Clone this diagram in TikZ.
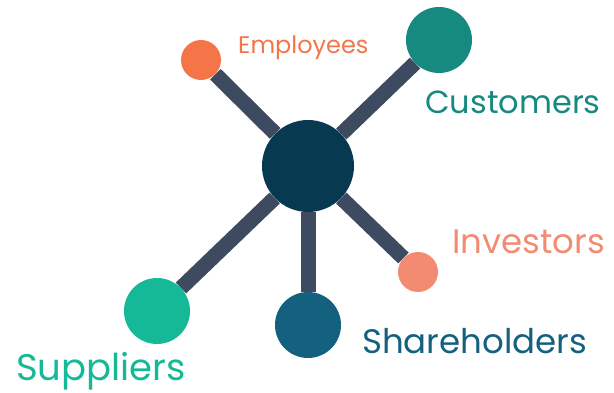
\documentclass[tikz,border=0pt]{standalone}
\usepackage{fontspec}
\setmainfont{Poppins}
\usepackage{tikz}
\usetikzlibrary{positioning, backgrounds}

\definecolor{hubcol}{HTML}{073A50}
\definecolor{linkcol}{HTML}{3E4A5F}
\definecolor{empcol}{HTML}{F37548}
\definecolor{custcol}{HTML}{178A80}
\definecolor{invcol}{HTML}{F38B73}
\definecolor{sharecol}{HTML}{14607F}
\definecolor{supcol}{HTML}{16B997}

\begin{document}
\begin{tikzpicture}[x=1pt, y=-1pt]
	% Define styles
	\tikzset{
		dot/.style={circle, inner sep=0pt, minimum size=#1},
		label/.style={anchor=base west, inner sep=0pt},
		link/.style={draw=linkcol, line width=15pt}
	}
	\useasboundingbox (0,0) rectangle (614,392);
	
	% Nodes
	\node[dot=92pt, fill=hubcol] (hub) at (308,166) {};
	\node[dot=40pt, fill=empcol] (emp) at (201,60) {};
	\node[dot=66pt, fill=custcol] (cust) at (439,40) {};
	\node[dot=40pt, fill=invcol] (inv) at (418,272) {};
	\node[dot=66pt, fill=sharecol] (share) at (308,325) {};
	\node[dot=66pt, fill=supcol] (sup) at (157,311) {};
	
	\node[label, text=empcol, font=\fontsize{24}{24}\selectfont] (emptext) at (238,53) {Employees};
	\node[label, text=custcol, font=\fontsize{32}{32}\selectfont] (custtext) at (425,113) {Customers};
	\node[label, text=invcol, font=\fontsize{34}{34}\selectfont] (invtext) at (452,253) {Investors};
	\node[label, text=sharecol, font=\fontsize{34}{34}\selectfont] (sharetext) at (362,353) {Shareholders};
	\node[label, text=supcol, font=\fontsize{37}{37}\selectfont] (suptext) at (16,380) {Suppliers};
	
	% Lines
	\begin{scope}[on background layer]
		\path [link] (hub) -- (emp);
		\path [link] (hub) -- (cust);
		\path [link] (hub) -- (inv);
		\path [link] (hub) -- (share);
		\path [link] (hub) -- (sup);
	\end{scope}
\end{tikzpicture}
\end{document}
